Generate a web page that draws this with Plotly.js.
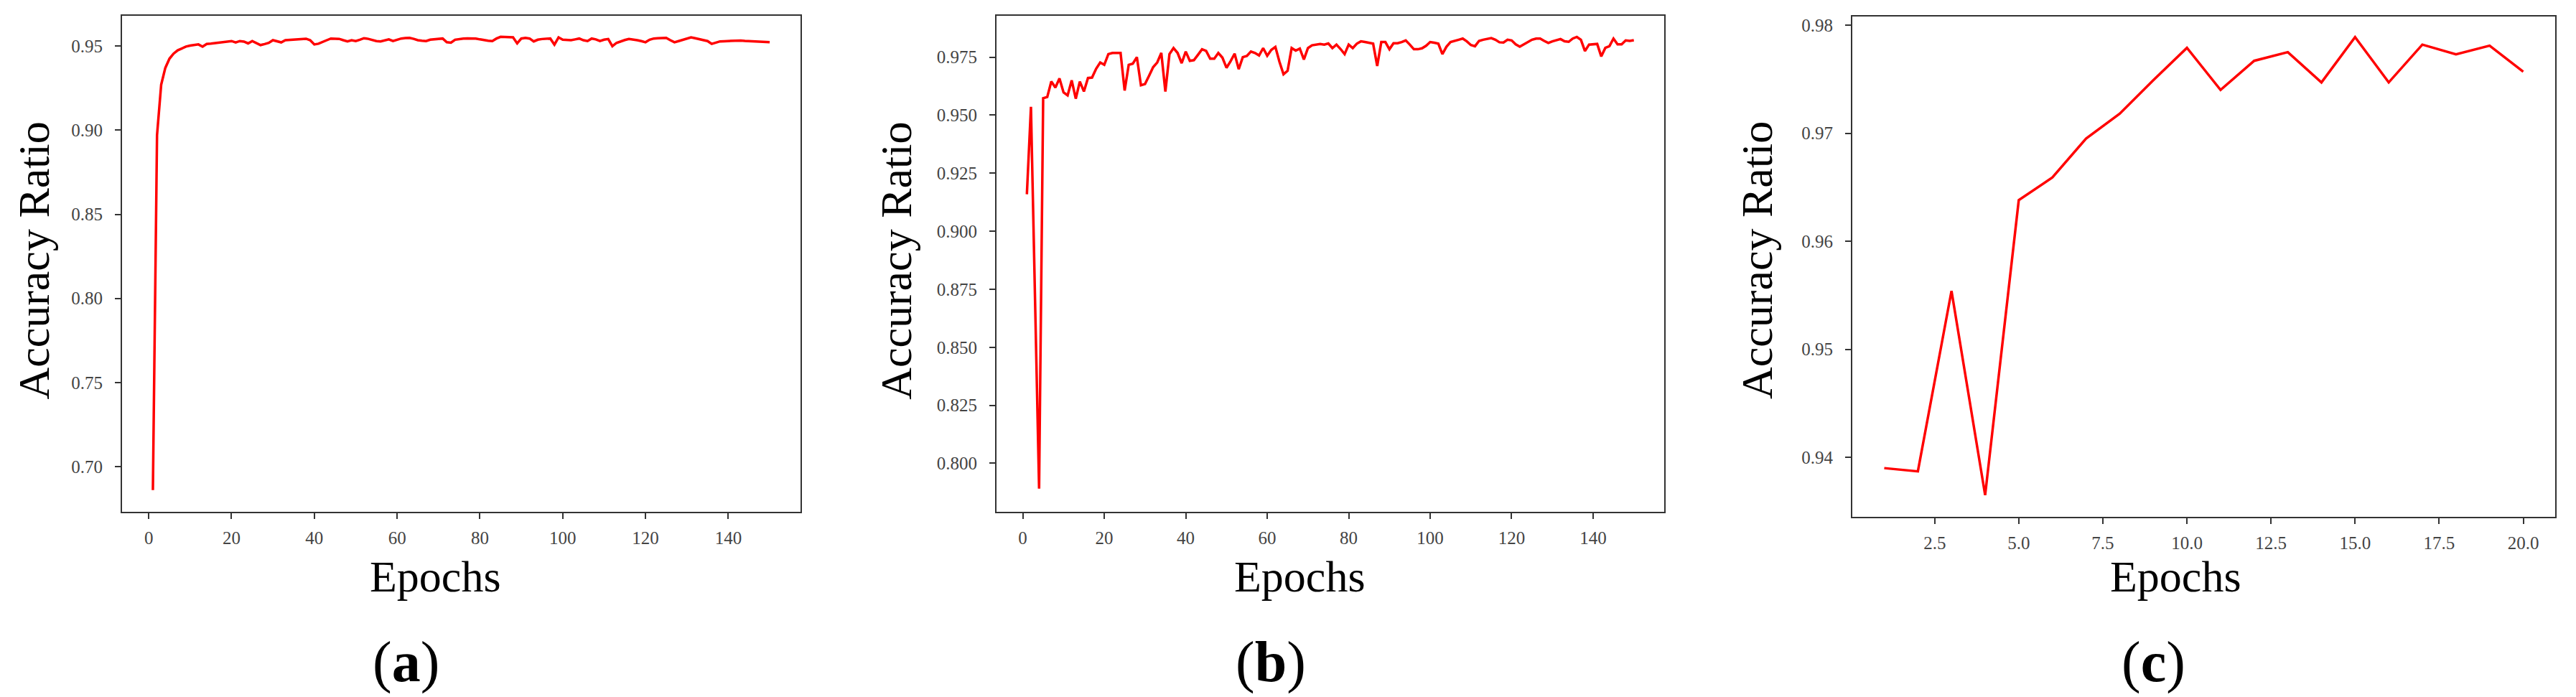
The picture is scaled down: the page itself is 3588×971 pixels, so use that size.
<!DOCTYPE html>
<html>
<head>
<meta charset="utf-8">
<script src="https://cdn.plot.ly/plotly-3.0.1.min.js"></script>
<style>
  html, body { margin: 0; padding: 0; background: #fff; }
  #graph { width: 3588px; height: 971px; }
</style>
</head>
<body>
<div id="graph"></div>
<script>
// accuracy per epoch
var accA = [
  0.686, 0.897, 0.927, 0.937, 0.9425, 0.9455, 0.9475, 0.9488, 0.9497, 0.9503,
  0.9508, 0.9510, 0.9497, 0.9513, 0.9515, 0.9518, 0.9520, 0.9522, 0.9525, 0.9530,
  0.9522, 0.9530, 0.9527, 0.9516, 0.9530, 0.9520, 0.9506, 0.9512, 0.9519, 0.9535,
  0.9528, 0.9522, 0.9535, 0.9537, 0.9538, 0.9540, 0.9545, 0.9544, 0.9535, 0.9510,
  0.9514, 0.9523, 0.9535, 0.9545, 0.9544, 0.9543, 0.9535, 0.9528, 0.9535, 0.9530,
  0.9538, 0.9547, 0.9543, 0.9535, 0.9530, 0.9528, 0.9535, 0.9540, 0.9530, 0.9538,
  0.9545, 0.9548, 0.9549, 0.9543, 0.9535, 0.9532, 0.9530, 0.9538, 0.9540, 0.9543,
  0.9545, 0.9523, 0.9520, 0.9538, 0.9543, 0.9545, 0.9546, 0.9545, 0.9545, 0.9540,
  0.9535, 0.9532, 0.9530, 0.9545, 0.9555, 0.9554, 0.9553, 0.9552, 0.9516, 0.9545,
  0.9549, 0.9545, 0.9528, 0.9538, 0.9542, 0.9545, 0.9545, 0.9509, 0.9552, 0.9538,
  0.9537, 0.9535, 0.9540, 0.9545, 0.9535, 0.9530, 0.9545, 0.9540, 0.9530, 0.9538,
  0.9542, 0.9499, 0.9519, 0.9528, 0.9536, 0.9542, 0.9540, 0.9535, 0.9530, 0.9523,
  0.9538, 0.9545, 0.9547, 0.9548, 0.9549, 0.9535, 0.9523, 0.9530, 0.9537, 0.9545,
  0.9552, 0.9547, 0.9542, 0.9538, 0.9530, 0.9513, 0.9520, 0.9528, 0.9529, 0.9530,
  0.9533, 0.9535, 0.9533, 0.9531, 0.9530, 0.9530, 0.9528, 0.9526, 0.9525, 0.9523
];

var accB = [
  0.9159, 0.9536, 0.8710, 0.7891, 0.9573, 0.9578, 0.9645, 0.9619, 0.9658, 0.9598,
  0.9585, 0.9650, 0.9571, 0.9645, 0.9602, 0.9660, 0.9662, 0.9700, 0.9727, 0.9717,
  0.9763, 0.9768, 0.9768, 0.9768, 0.9606, 0.9717, 0.9722, 0.9750, 0.9629, 0.9634,
  0.9670, 0.9707, 0.9727, 0.9768, 0.9602, 0.9763, 0.9789, 0.9768, 0.9724, 0.9774,
  0.9734, 0.9737, 0.9760, 0.9784, 0.9777, 0.9743, 0.9743, 0.9768, 0.9748, 0.9704,
  0.9732, 0.9765, 0.9698, 0.9750, 0.9755, 0.9774, 0.9768, 0.9757, 0.9789, 0.9756,
  0.9781, 0.9794, 0.9730, 0.9676, 0.9691, 0.9789, 0.9778, 0.9787, 0.9740, 0.9789,
  0.9801, 0.9805, 0.9807, 0.9804, 0.9809, 0.9789, 0.9804, 0.9785, 0.9763, 0.9804,
  0.9789, 0.9808, 0.9818, 0.9815, 0.9811, 0.9808, 0.9712, 0.9815, 0.9815, 0.9784,
  0.9810, 0.9810, 0.9815, 0.9822, 0.9804, 0.9784, 0.9784, 0.9788, 0.9799, 0.9815,
  0.9812, 0.9808, 0.9763, 0.9795, 0.9815, 0.9820, 0.9823, 0.9830, 0.9818, 0.9802,
  0.9797, 0.9820, 0.9825, 0.9828, 0.9832, 0.9825, 0.9814, 0.9813, 0.9825, 0.9822,
  0.9805, 0.9795, 0.9805, 0.9818, 0.9825, 0.9830, 0.9830, 0.9820, 0.9811, 0.9818,
  0.9822, 0.9828, 0.9818, 0.9816, 0.9830, 0.9837, 0.9825, 0.9776, 0.9804, 0.9805,
  0.9807, 0.9753, 0.9790, 0.9797, 0.9830, 0.9805, 0.9805, 0.9822, 0.9820, 0.9823
];

var accC = [
  0.9390, 0.9387, 0.9554, 0.9365, 0.9638, 0.9659, 0.9695, 0.9718, 0.9749, 0.9779,
  0.9740, 0.9767, 0.9775, 0.9747, 0.9789, 0.9747, 0.9782, 0.9773, 0.9781, 0.9757
];

var epochsLong = accA.map(function (v, i) { return i + 1; });
var epochsShort = accC.map(function (v, i) { return i + 1; });

var panelLetters = ['a', 'b', 'c'];
var yTitle = 'Accuracy Ratio';
var xTitle = 'Epochs';

var serif = 'Liberation Serif, Times New Roman, serif';

function accLine(x, y, xa, ya) {
    return {
        x: x,
        y: y,
        xaxis: xa,
        yaxis: ya,
        type: 'scatter',
        mode: 'lines',
        line: {color: '#ff0000', width: 3.5},
        hoverinfo: 'skip'
    };
}

function frameAxis(extra) {
    var ax = {
        showline: true,
        mirror: true,
        linecolor: '#333',
        linewidth: 2,
        ticks: 'outside',
        ticklen: 8,
        tickwidth: 2,
        tickcolor: '#333',
        showgrid: false,
        zeroline: false,
        tickfont: {family: serif, size: 25, color: '#444'}
    };
    for (var k in extra) ax[k] = extra[k];
    return ax;
}

var data = [
    accLine(epochsLong, accA, 'x', 'y'),
    accLine(epochsLong, accB, 'x2', 'y2'),
    accLine(epochsShort, accC, 'x3', 'y3')
];

var layout = {
    width: 3588,
    height: 971,
    margin: {l: 0, r: 0, t: 0, b: 0},
    paper_bgcolor: '#fff',
    plot_bgcolor: '#fff',
    showlegend: false,
    xaxis: frameAxis({domain: [0.04738, 0.31076], anchor: 'y', range: [-6.45, 157.45],
        tick0: 0, dtick: 20, ticklabelstandoff: 5}),
    yaxis: frameAxis({domain: [0.2657, 0.9773], anchor: 'x', range: [0.6731, 0.968],
        tick0: 0.70, dtick: 0.05, tickformat: '.2f', ticklabelstandoff: 12}),
    xaxis2: frameAxis({domain: [0.38685, 0.64604], anchor: 'y2', range: [-6.45, 157.45],
        tick0: 0, dtick: 20, ticklabelstandoff: 5}),
    yaxis2: frameAxis({domain: [0.2657, 0.9773], anchor: 'x2', range: [0.7791, 0.9928],
        tick0: 0.800, dtick: 0.025, tickformat: '.3f', ticklabelstandoff: 12}),
    xaxis3: frameAxis({domain: [0.71906, 0.99192], anchor: 'y3', range: [0.05, 20.95],
        tick0: 0, dtick: 2.5, tickformat: '.1f', ticklabelstandoff: 5}),
    yaxis3: frameAxis({domain: [0.2585, 0.97662], anchor: 'x3', range: [0.93449, 0.98082],
        tick0: 0.94, dtick: 0.01, tickformat: '.2f', ticklabelstandoff: 12}),
    annotations: []
};

// titles and panel letters placed like the original figure
var yTitleX = [0.0130, 0.3478, 0.6820];
var xTitleX = [0.1689, 0.5047, 0.8445];
var letterX = [0.1577, 0.4933, 0.8361];

for (var i = 0; i < 3; i++) {
    layout.annotations.push({
        text: yTitle, xref: 'paper', yref: 'paper', x: yTitleX[i], y: 0.6262,
        xanchor: 'center', yanchor: 'middle', textangle: -90, showarrow: false,
        font: {family: serif, size: 62, color: '#000'}
    });
    layout.annotations.push({
        text: xTitle, xref: 'paper', yref: 'paper', x: xTitleX[i], y: 0.1735,
        xanchor: 'center', yanchor: 'middle', showarrow: false,
        font: {family: serif, size: 62, color: '#000'}
    });
    layout.annotations.push({
        text: '(<b>' + panelLetters[i] + '</b>)', xref: 'paper', yref: 'paper',
        x: letterX[i], y: 0.0500, xanchor: 'center', yanchor: 'middle', showarrow: false,
        font: {family: serif, size: 80, color: '#000'}
    });
}

Plotly.newPlot('graph', data, layout, {staticPlot: true});
</script>
</body>
</html>
